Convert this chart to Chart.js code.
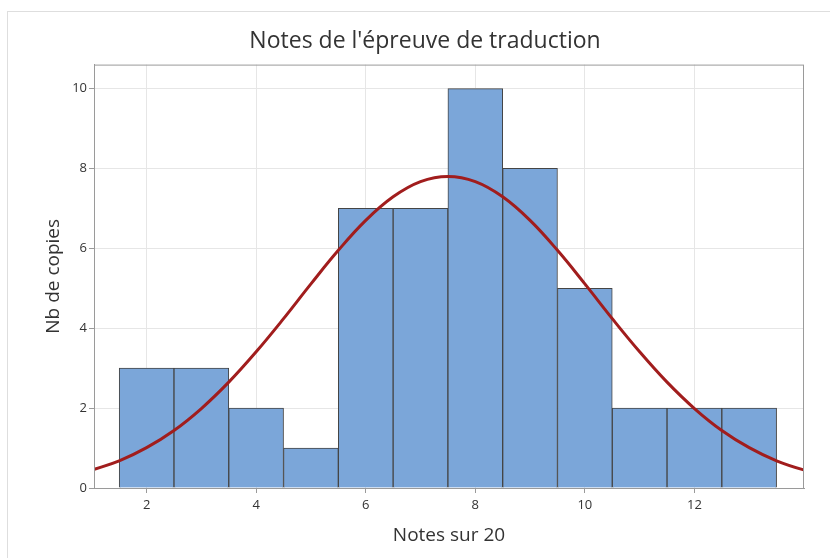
<!DOCTYPE html>
<html>
<head>
<meta charset="utf-8">
<script src="https://cdn.jsdelivr.net/npm/chart.js@4"></script>
<style>
    html, body { margin: 0; padding: 0; background: #fff; }
    #wrap { position: relative; width: 830px; height: 558px; }
    #frame { position: absolute; left: 7px; top: 11px; right: 0; bottom: 0;
             border-left: 1px solid #dedede; border-top: 1px solid #dedede; }
    #chart { position: absolute; left: 0; top: 0; }
</style>
</head>
<body>
<div id="wrap">
    <div id="frame"></div>
    <canvas id="chart" width="830" height="558"></canvas>
</div>
<script>
// histogram bins (centre of each class, width 1)
var binCenters = [2, 3, 4, 5, 6, 7, 8, 9, 10, 11, 12, 13]
var binCounts = [3, 3, 2, 1, 7, 7, 10, 8, 5, 2, 2, 2]

// fitted normal curve
var curveX = [1, 1.5, 2, 2.5, 3, 3.5, 4, 4.5, 5, 5.5, 6, 6.5, 7, 7.5, 8, 8.5, 9, 9.5, 10, 10.5, 11, 11.5, 12, 12.5, 13, 13.5, 14, 14.5]
var curveY = [0.45, 0.68, 1.01, 1.44, 1.99, 2.65, 3.41, 4.24, 5.11, 5.95, 6.70, 7.29, 7.67, 7.80, 7.67, 7.29, 6.70, 5.95, 5.11, 4.24, 3.41, 2.65, 1.99, 1.44, 1.01, 0.68, 0.45, 0.28]

var xTicks = [2, 4, 6, 8, 10, 12]
var yTicks = [0, 2, 4, 6, 8, 10]

var fontFamily = '"Open Sans", "Noto Sans", sans-serif'

var plotFrame = {
    id: 'plotFrame',
    afterDraw: function(chart) {
        var a = chart.chartArea
        var ctx = chart.ctx
        ctx.save()
        ctx.strokeStyle = '#9a9a9a'
        ctx.lineWidth = 1
        ctx.strokeRect(a.left + 0.5, a.top + 0.5, a.right - a.left - 1, a.bottom - a.top)
        ctx.restore()
    }
}

function drawChart() {
    var ctx = document.getElementById('chart')
    new Chart(ctx, {
        data: {
            datasets: [{
                type: 'line',
                data: curveX.map(function(x, i) { return { x: x, y: curveY[i] } }),
                borderColor: '#a11d1d',
                borderWidth: 3,
                pointRadius: 0,
                tension: 0.4,
                order: 1
            }, {
                type: 'bar',
                data: binCenters.map(function(x, i) { return { x: x, y: binCounts[i] } }),
                backgroundColor: '#7ba6d9',
                borderColor: '#454545',
                borderWidth: 1,
                barPercentage: 1,
                categoryPercentage: 1,
                grouped: false,
                order: 2
            }]
        },
        options: {
            responsive: false,
            animation: false,
            layout: { padding: { left: 46, right: 26, top: 18, bottom: 0 } },
            plugins: {
                legend: { display: false },
                tooltip: { enabled: false },
                title: {
                    display: true,
                    text: "Notes de l'épreuve de traduction",
                    color: '#333',
                    font: { family: fontFamily, size: 23, weight: 'normal' },
                    padding: { top: 10, bottom: 9 }
                }
            },
            scales: {
                x: {
                    type: 'linear',
                    offset: false,
                    min: 1.04,
                    max: 14,
                    afterBuildTicks: function(scale) {
                        scale.ticks = xTicks.map(function(v) { return { value: v } })
                    },
                    afterFit: function(scale) { scale.height = 70 },
                    ticks: {
                        color: '#333',
                        padding: 4,
                        font: { family: fontFamily, size: 13 }
                    },
                    grid: { offset: false, color: '#e6e6e6', tickColor: '#9a9a9a', tickLength: 5 },
                    border: { color: '#9a9a9a' },
                    title: {
                        display: true,
                        text: 'Notes sur 20',
                        color: '#333',
                        font: { family: fontFamily, size: 19 },
                        padding: { top: 4, bottom: 11 }
                    }
                },
                y: {
                    min: 0,
                    max: 10.6,
                    afterBuildTicks: function(scale) {
                        scale.ticks = yTicks.map(function(v) { return { value: v } })
                    },
                    afterFit: function(scale) { scale.width = 48 },
                    ticks: {
                        color: '#333',
                        padding: 2,
                        font: { family: fontFamily, size: 13 }
                    },
                    grid: { color: '#e6e6e6', tickColor: '#9a9a9a', tickLength: 5 },
                    border: { color: '#9a9a9a' },
                    title: {
                        display: true,
                        text: 'Nb de copies',
                        color: '#333',
                        font: { family: fontFamily, size: 19 },
                        padding: { top: -4, bottom: 0 }
                    }
                }
            }
        },
        plugins: [plotFrame]
    })
}

drawChart()
</script>
</body>
</html>
